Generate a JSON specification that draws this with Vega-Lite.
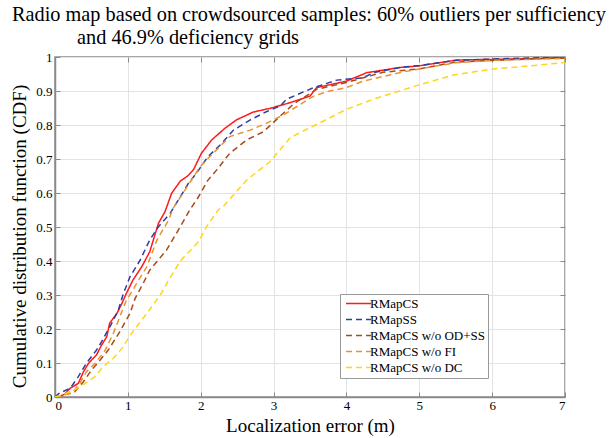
{
  "$schema": "https://vega.github.io/schema/vega-lite/v6.json",
  "width": 510,
  "height": 340,
  "autosize": {"type": "none"},
  "padding": {"left": 55, "top": 57, "right": 49, "bottom": 41},
  "background": "white",
  "title": {
    "text": ["Radio map based on crowdsourced samples: 60% outliers per sufficiency", "\u2800\u2800\u2800\u2800\u00a0and 46.9% deficiency grids"],
    "anchor": "start",
    "frame": "group",
    "dx": -43,
    "offset": 3,
    "font": "Times New Roman, Liberation Serif, serif",
    "fontSize": 20.3,
    "fontWeight": "normal",
    "lineHeight": 23,
    "color": "black"
  },
  "config": {
    "view": {"stroke": "#8a8a8a", "strokeWidth": 1.5},
    "font": "Times New Roman, Liberation Serif, serif",
    "axis": {
      "labelFont": "Times New Roman, Liberation Serif, serif",
      "titleFont": "Times New Roman, Liberation Serif, serif",
      "labelColor": "black",
      "titleColor": "black",
      "titleFontWeight": "normal",
      "domainColor": "#8a8a8a",
      "domainWidth": 1.5,
      "tickColor": "#8a8a8a",
      "gridColor": "#e3e3e3",
      "gridWidth": 1
    }
  },
  "data": {"values": [
    {"s": "RMapCS", "x": 0, "y": 0}, {"s": "RMapCS", "x": 0.1, "y": 0.005}, {"s": "RMapCS", "x": 0.14, "y": 0.01}, {"s": "RMapCS", "x": 0.21, "y": 0.026}, {"s": "RMapCS", "x": 0.32, "y": 0.04}, {"s": "RMapCS", "x": 0.39, "y": 0.074}, {"s": "RMapCS", "x": 0.46, "y": 0.099}, {"s": "RMapCS", "x": 0.57, "y": 0.124}, {"s": "RMapCS", "x": 0.64, "y": 0.153}, {"s": "RMapCS", "x": 0.71, "y": 0.177}, {"s": "RMapCS", "x": 0.75, "y": 0.217}, {"s": "RMapCS", "x": 0.85, "y": 0.246}, {"s": "RMapCS", "x": 0.92, "y": 0.276}, {"s": "RMapCS", "x": 0.98, "y": 0.305}, {"s": "RMapCS", "x": 1.07, "y": 0.344}, {"s": "RMapCS", "x": 1.19, "y": 0.383}, {"s": "RMapCS", "x": 1.3, "y": 0.427}, {"s": "RMapCS", "x": 1.42, "y": 0.511}, {"s": "RMapCS", "x": 1.51, "y": 0.545}, {"s": "RMapCS", "x": 1.6, "y": 0.599}, {"s": "RMapCS", "x": 1.72, "y": 0.635}, {"s": "RMapCS", "x": 1.82, "y": 0.65}, {"s": "RMapCS", "x": 1.9, "y": 0.668}, {"s": "RMapCS", "x": 2.01, "y": 0.717}, {"s": "RMapCS", "x": 2.15, "y": 0.756}, {"s": "RMapCS", "x": 2.33, "y": 0.79}, {"s": "RMapCS", "x": 2.49, "y": 0.815}, {"s": "RMapCS", "x": 2.72, "y": 0.838}, {"s": "RMapCS", "x": 2.95, "y": 0.849}, {"s": "RMapCS", "x": 3.2, "y": 0.864}, {"s": "RMapCS", "x": 3.5, "y": 0.885}, {"s": "RMapCS", "x": 3.59, "y": 0.91}, {"s": "RMapCS", "x": 4.0, "y": 0.929}, {"s": "RMapCS", "x": 4.28, "y": 0.954}, {"s": "RMapCS", "x": 4.73, "y": 0.969}, {"s": "RMapCS", "x": 5.0, "y": 0.974}, {"s": "RMapCS", "x": 5.51, "y": 0.991}, {"s": "RMapCS", "x": 6.0, "y": 0.993}, {"s": "RMapCS", "x": 6.5, "y": 0.995}, {"s": "RMapCS", "x": 7.0, "y": 0.998},
    {"s": "RMapSS", "x": 0, "y": 0}, {"s": "RMapSS", "x": 0.05, "y": 0.01}, {"s": "RMapSS", "x": 0.21, "y": 0.026}, {"s": "RMapSS", "x": 0.32, "y": 0.06}, {"s": "RMapSS", "x": 0.43, "y": 0.099}, {"s": "RMapSS", "x": 0.57, "y": 0.138}, {"s": "RMapSS", "x": 0.64, "y": 0.163}, {"s": "RMapSS", "x": 0.78, "y": 0.217}, {"s": "RMapSS", "x": 0.87, "y": 0.256}, {"s": "RMapSS", "x": 0.94, "y": 0.305}, {"s": "RMapSS", "x": 1.03, "y": 0.354}, {"s": "RMapSS", "x": 1.17, "y": 0.403}, {"s": "RMapSS", "x": 1.3, "y": 0.462}, {"s": "RMapSS", "x": 1.42, "y": 0.501}, {"s": "RMapSS", "x": 1.58, "y": 0.54}, {"s": "RMapSS", "x": 1.72, "y": 0.589}, {"s": "RMapSS", "x": 1.83, "y": 0.628}, {"s": "RMapSS", "x": 1.94, "y": 0.658}, {"s": "RMapSS", "x": 2.1, "y": 0.707}, {"s": "RMapSS", "x": 2.29, "y": 0.746}, {"s": "RMapSS", "x": 2.45, "y": 0.785}, {"s": "RMapSS", "x": 2.68, "y": 0.815}, {"s": "RMapSS", "x": 2.9, "y": 0.839}, {"s": "RMapSS", "x": 3.09, "y": 0.856}, {"s": "RMapSS", "x": 3.18, "y": 0.876}, {"s": "RMapSS", "x": 3.55, "y": 0.91}, {"s": "RMapSS", "x": 3.87, "y": 0.932}, {"s": "RMapSS", "x": 4.23, "y": 0.939}, {"s": "RMapSS", "x": 4.37, "y": 0.954}, {"s": "RMapSS", "x": 4.73, "y": 0.969}, {"s": "RMapSS", "x": 5.0, "y": 0.975}, {"s": "RMapSS", "x": 5.5, "y": 0.99}, {"s": "RMapSS", "x": 6.0, "y": 0.994}, {"s": "RMapSS", "x": 6.5, "y": 0.997}, {"s": "RMapSS", "x": 7.0, "y": 0.999},
    {"s": "RMapCS w/o OD+SS", "x": 0, "y": 0}, {"s": "RMapCS w/o OD+SS", "x": 0.27, "y": 0.015}, {"s": "RMapCS w/o OD+SS", "x": 0.39, "y": 0.045}, {"s": "RMapCS w/o OD+SS", "x": 0.5, "y": 0.079}, {"s": "RMapCS w/o OD+SS", "x": 0.62, "y": 0.109}, {"s": "RMapCS w/o OD+SS", "x": 0.73, "y": 0.138}, {"s": "RMapCS w/o OD+SS", "x": 0.89, "y": 0.192}, {"s": "RMapCS w/o OD+SS", "x": 1.03, "y": 0.246}, {"s": "RMapCS w/o OD+SS", "x": 1.1, "y": 0.29}, {"s": "RMapCS w/o OD+SS", "x": 1.21, "y": 0.334}, {"s": "RMapCS w/o OD+SS", "x": 1.3, "y": 0.373}, {"s": "RMapCS w/o OD+SS", "x": 1.53, "y": 0.432}, {"s": "RMapCS w/o OD+SS", "x": 1.72, "y": 0.501}, {"s": "RMapCS w/o OD+SS", "x": 1.85, "y": 0.55}, {"s": "RMapCS w/o OD+SS", "x": 1.97, "y": 0.589}, {"s": "RMapCS w/o OD+SS", "x": 2.1, "y": 0.638}, {"s": "RMapCS w/o OD+SS", "x": 2.22, "y": 0.668}, {"s": "RMapCS w/o OD+SS", "x": 2.4, "y": 0.717}, {"s": "RMapCS w/o OD+SS", "x": 2.63, "y": 0.756}, {"s": "RMapCS w/o OD+SS", "x": 2.86, "y": 0.78}, {"s": "RMapCS w/o OD+SS", "x": 3.05, "y": 0.818}, {"s": "RMapCS w/o OD+SS", "x": 3.27, "y": 0.861}, {"s": "RMapCS w/o OD+SS", "x": 3.59, "y": 0.905}, {"s": "RMapCS w/o OD+SS", "x": 4.0, "y": 0.925}, {"s": "RMapCS w/o OD+SS", "x": 4.5, "y": 0.955}, {"s": "RMapCS w/o OD+SS", "x": 5.0, "y": 0.965}, {"s": "RMapCS w/o OD+SS", "x": 5.5, "y": 0.985}, {"s": "RMapCS w/o OD+SS", "x": 6.0, "y": 0.99}, {"s": "RMapCS w/o OD+SS", "x": 6.5, "y": 0.994}, {"s": "RMapCS w/o OD+SS", "x": 7.0, "y": 0.997},
    {"s": "RMapCS w/o FI", "x": 0, "y": 0}, {"s": "RMapCS w/o FI", "x": 0.23, "y": 0.011}, {"s": "RMapCS w/o FI", "x": 0.34, "y": 0.04}, {"s": "RMapCS w/o FI", "x": 0.43, "y": 0.074}, {"s": "RMapCS w/o FI", "x": 0.55, "y": 0.099}, {"s": "RMapCS w/o FI", "x": 0.69, "y": 0.138}, {"s": "RMapCS w/o FI", "x": 0.8, "y": 0.187}, {"s": "RMapCS w/o FI", "x": 0.89, "y": 0.236}, {"s": "RMapCS w/o FI", "x": 0.98, "y": 0.285}, {"s": "RMapCS w/o FI", "x": 1.07, "y": 0.315}, {"s": "RMapCS w/o FI", "x": 1.12, "y": 0.334}, {"s": "RMapCS w/o FI", "x": 1.26, "y": 0.383}, {"s": "RMapCS w/o FI", "x": 1.4, "y": 0.462}, {"s": "RMapCS w/o FI", "x": 1.56, "y": 0.521}, {"s": "RMapCS w/o FI", "x": 1.62, "y": 0.555}, {"s": "RMapCS w/o FI", "x": 1.74, "y": 0.594}, {"s": "RMapCS w/o FI", "x": 1.99, "y": 0.677}, {"s": "RMapCS w/o FI", "x": 2.17, "y": 0.717}, {"s": "RMapCS w/o FI", "x": 2.4, "y": 0.766}, {"s": "RMapCS w/o FI", "x": 2.68, "y": 0.785}, {"s": "RMapCS w/o FI", "x": 2.9, "y": 0.805}, {"s": "RMapCS w/o FI", "x": 3.13, "y": 0.829}, {"s": "RMapCS w/o FI", "x": 3.55, "y": 0.885}, {"s": "RMapCS w/o FI", "x": 3.77, "y": 0.9}, {"s": "RMapCS w/o FI", "x": 4.0, "y": 0.91}, {"s": "RMapCS w/o FI", "x": 4.23, "y": 0.929}, {"s": "RMapCS w/o FI", "x": 4.73, "y": 0.954}, {"s": "RMapCS w/o FI", "x": 5.0, "y": 0.965}, {"s": "RMapCS w/o FI", "x": 5.5, "y": 0.983}, {"s": "RMapCS w/o FI", "x": 6.0, "y": 0.99}, {"s": "RMapCS w/o FI", "x": 6.5, "y": 0.993}, {"s": "RMapCS w/o FI", "x": 7.0, "y": 0.996},
    {"s": "RMapCS w/o DC", "x": 0, "y": 0}, {"s": "RMapCS w/o DC", "x": 0.09, "y": 0.005}, {"s": "RMapCS w/o DC", "x": 0.27, "y": 0.021}, {"s": "RMapCS w/o DC", "x": 0.41, "y": 0.04}, {"s": "RMapCS w/o DC", "x": 0.55, "y": 0.06}, {"s": "RMapCS w/o DC", "x": 0.66, "y": 0.089}, {"s": "RMapCS w/o DC", "x": 0.8, "y": 0.114}, {"s": "RMapCS w/o DC", "x": 0.92, "y": 0.143}, {"s": "RMapCS w/o DC", "x": 1.05, "y": 0.187}, {"s": "RMapCS w/o DC", "x": 1.19, "y": 0.226}, {"s": "RMapCS w/o DC", "x": 1.33, "y": 0.266}, {"s": "RMapCS w/o DC", "x": 1.46, "y": 0.305}, {"s": "RMapCS w/o DC", "x": 1.55, "y": 0.34}, {"s": "RMapCS w/o DC", "x": 1.72, "y": 0.4}, {"s": "RMapCS w/o DC", "x": 1.97, "y": 0.457}, {"s": "RMapCS w/o DC", "x": 2.08, "y": 0.501}, {"s": "RMapCS w/o DC", "x": 2.24, "y": 0.55}, {"s": "RMapCS w/o DC", "x": 2.31, "y": 0.56}, {"s": "RMapCS w/o DC", "x": 2.63, "y": 0.638}, {"s": "RMapCS w/o DC", "x": 2.95, "y": 0.692}, {"s": "RMapCS w/o DC", "x": 3.23, "y": 0.763}, {"s": "RMapCS w/o DC", "x": 3.64, "y": 0.807}, {"s": "RMapCS w/o DC", "x": 4.0, "y": 0.846}, {"s": "RMapCS w/o DC", "x": 4.37, "y": 0.876}, {"s": "RMapCS w/o DC", "x": 4.73, "y": 0.9}, {"s": "RMapCS w/o DC", "x": 5.0, "y": 0.918}, {"s": "RMapCS w/o DC", "x": 5.47, "y": 0.947}, {"s": "RMapCS w/o DC", "x": 6.02, "y": 0.965}, {"s": "RMapCS w/o DC", "x": 6.52, "y": 0.974}, {"s": "RMapCS w/o DC", "x": 7.0, "y": 0.984}
  ]},
  "layer": [
    {
      "mark": {"type": "line", "strokeWidth": 1.5, "clip": true},
      "encoding": {
        "x": {"field": "x", "type": "quantitative", "scale": {"domain": [0, 7], "nice": false},
          "axis": {"title": "Localization error (m)", "titleFontSize": 19, "titlePadding": 4, "labelFontSize": 13, "values": [0,1,2,3,4,5,6,7], "format": "~g", "tickSize": -5, "labelPadding": 7, "grid": true, "orient": "bottom"}},
        "y": {"field": "y", "type": "quantitative", "scale": {"domain": [0, 1], "nice": false},
          "axis": {"title": "Cumulative distribution function (CDF)", "titleFontSize": 19, "titlePadding": 6, "titleY": 179, "labelFontSize": 13, "values": [0,0.1,0.2,0.3,0.4,0.5,0.6,0.7,0.8,0.9,1], "format": "~g", "tickSize": -5, "labelPadding": 8, "grid": true, "orient": "left"}},
        "color": {"field": "s", "type": "nominal",
          "scale": {"domain": ["RMapCS", "RMapSS", "RMapCS w/o OD+SS", "RMapCS w/o FI", "RMapCS w/o DC"], "range": ["#ff1a1a", "#2e3f9e", "#a84a1a", "#e8922f", "#ffd51a"]},
          "legend": {"title": null, "orient": "none", "legendX": 285, "legendY": 237, "fillColor": "white", "strokeColor": "#999999", "padding": 3, "symbolType": "M-2.5,0H2.5", "symbolSize": 100, "symbolOffset": 9, "symbolStrokeWidth": 1.5, "labelFont": "Times New Roman, Liberation Serif, serif", "labelFontSize": 13, "labelColor": "black", "rowPadding": 2, "labelOffset": 5}},
        "strokeDash": {"field": "s", "type": "nominal",
          "scale": {"domain": ["RMapCS", "RMapSS", "RMapCS w/o OD+SS", "RMapCS w/o FI", "RMapCS w/o DC"], "range": [[1, 0], [6, 4], [6, 4], [6, 4], [6, 4]]},
          "legend": {"title": null, "orient": "none", "legendX": 285, "legendY": 237, "fillColor": "white", "strokeColor": "#999999", "padding": 3, "symbolType": "M-2.5,0H2.5", "symbolSize": 100, "symbolOffset": 9, "symbolStrokeWidth": 1.5, "labelFont": "Times New Roman, Liberation Serif, serif", "labelFontSize": 13, "labelColor": "black", "rowPadding": 2, "labelOffset": 5}}
      }
    },
    {
      "mark": {"type": "point", "opacity": 0},
      "encoding": {
        "x": {"field": "x", "type": "quantitative", "axis": {"orient": "top", "labels": false, "title": null, "grid": false, "domain": false, "tickSize": -5, "values": [0,1,2,3,4,5,6,7]}},
        "y": {"field": "y", "type": "quantitative", "axis": {"orient": "right", "labels": false, "title": null, "grid": false, "domain": false, "tickSize": -5, "values": [0,0.1,0.2,0.3,0.4,0.5,0.6,0.7,0.8,0.9,1]}}
      }
    }
  ],
  "resolve": {"axis": {"x": "independent", "y": "independent"}}
}
